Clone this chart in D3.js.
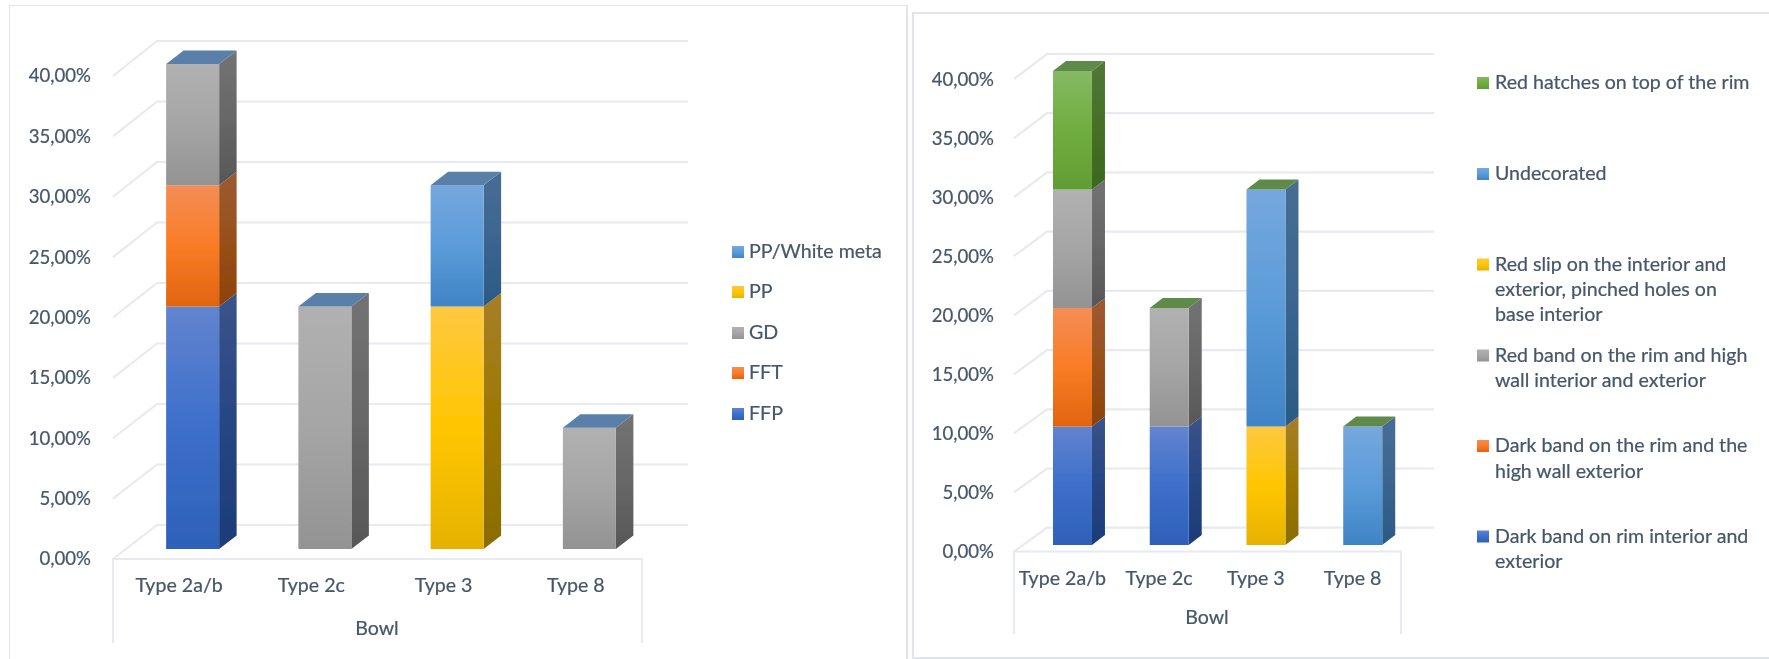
<!DOCTYPE html>
<html><head><meta charset="utf-8">
<script src="https://cdn.jsdelivr.net/npm/d3@7"></script>
<style>html,body{margin:0;padding:0;background:#fff;overflow:hidden}svg{display:block}text{font-family:Lato,sans-serif;fill:#475669;stroke:#475669;stroke-width:.22px}</style>
</head><body><svg id="c" width="1769" height="659"></svg>
<script>
// ---- data (percent) ----
const categories = ["Type 2a/b","Type 2c","Type 3","Type 8"];
const groupLabel = "Bowl";
const tickValues = [0,5,10,15,20,25,30,35,40];

const leftSeriesNames = ["FFP","FFT","GD","PP","PP/White meta"];
const leftFFP   = [20,0,0,0];
const leftFFT   = [10,0,0,0];
const leftGD    = [10,20,0,10];
const leftPP    = [0,0,20,0];
const leftWhite = [0,0,10,0];
const leftColors = ["blue","orange","gray","yellow","sky"];

const rightSeriesNames = [
  ["Dark band on rim interior and","exterior"],
  ["Dark band on the rim and the","high wall exterior"],
  ["Red band on the rim and high","wall interior and exterior"],
  ["Red slip on the interior and","exterior, pinched holes on","base interior"],
  ["Undecorated"],
  ["Red hatches on top of the rim"]];
const rightDarkRim  = [10,10,0,0];
const rightDarkHigh = [10,0,0,0];
const rightRedBand  = [10,10,0,0];
const rightRedSlip  = [0,0,10,0];
const rightUndec    = [0,0,20,10];
const rightHatches  = [10,0,0,0];
const rightColors = ["blue","orange","gray","yellow","sky","green"];

const palette = {
  blue:  {front:["#6284ce","#3c6fcb","#2e61b8"], side:["#3b5389","#264684","#1c3c78"]},
  orange:{front:["#f48d57","#f97c25","#e1640f"], side:["#9d5a32","#98501b","#8c4209"]},
  gray:  {front:["#b1b1b1","#a5a5a5","#939393"], side:["#737373","#676767","#575757"]},
  yellow:{front:["#fec840","#ffc600","#e6b200"], side:["#a67f28","#9d7800","#8a6c00"]},
  sky:   {front:["#75a8de","#5b9bd9","#3f84c6"], side:["#486d94","#3b6590","#2a5a85"]},
  green: {front:["#85b964","#70ad3f","#629d34"], side:["#527739","#457026","#3c6620"]}
};

// ---- layout ----
const fmt = d3.formatLocale({decimal:",",thousands:".",grouping:[3],currency:["","%"]}).format(".2f");
const svg = d3.select("#c");
const defs = svg.append("defs");
Object.entries(palette).forEach(([name,p])=>{
  ["front","side"].forEach(k=>{
    const g = defs.append("linearGradient").attr("id",`${name}-${k}`).attr("x1",0).attr("x2",0).attr("y1",0).attr("y2",1);
    p[k].forEach((c,i)=>g.append("stop").attr("offset",i/2).attr("stop-color",c));
  });
});
const soft = defs.append("filter").attr("id","soft").attr("x",0).attr("y",0).attr("width",1).attr("height",1);
soft.append("feGaussianBlur").attr("stdDeviation",0.45);

const root = svg.append("g").attr("filter","url(#soft)");

// panel frames
const frame = d3.line();
[[[9,659],[9,5],[907,5],[907,659]],[[913,659],[913,13],[1769,13]],[[913,658],[1769,658]]].forEach(p=>
  root.append("path").attr("d",frame(p)).attr("fill","none").attr("stroke","#e1e4ea").attr("stroke-width",2));

function chart(o){
  const g = root.append("g");
  const names = d3.range(o.series.length);
  const rows = categories.map((c,i)=>{const r={c};names.forEach(k=>r[k]=o.series[k][i]);return r;});
  const stacked = d3.stack().keys(names)(rows);

  const x = d3.scaleBand().domain(categories).range([o.floorL,o.floorR]);
  const yBar  = d3.scaleLinear().domain([0,40]).range(o.bar);
  const yWall = d3.scaleLinear().domain([0,40]).range(o.wall);
  const yAxis = d3.scaleLinear().domain([0,40]).range(o.axis);
  const yTick = d3.scaleLinear().domain([0,40]).range(o.tick);

  // gridlines: slanted side-wall segment + back-wall segment
  const gridStroke = "#e8eaef";
  g.selectAll("path.grid").data(tickValues).join("path").attr("class","grid")
    .attr("fill","none").attr("stroke",gridStroke).attr("stroke-width",2.2)
    .attr("d",v=>d3.line()([[o.floorL,yAxis(v)],[o.wallL,yWall(v)],[o.wallR,yWall(v)]]));

  // floor and category box
  g.append("path").attr("fill","none").attr("stroke",gridStroke).attr("stroke-width",2.2)
    .attr("d",d3.line()([[o.floorL,o.boxBottom],[o.floorL,o.axis[0]],[o.floorR,o.axis[0]],[o.floorR,o.boxBottom]]));

  // value axis
  const ax = g.append("g").attr("transform",`translate(${o.tickX},0)`)
    .call(d3.axisLeft(yTick).tickValues(tickValues).tickFormat(v=>fmt(v)+"%").tickSize(0).tickPadding(0));
  ax.select(".domain").remove();
  ax.selectAll("text").attr("font-size",o.tickFont).style("font-family","Lato,sans-serif").attr("fill","#475669");

  // stacked 3D bars
  const [dx,dy] = o.depth;
  const poly = pts=>d3.line()(pts)+"Z";
  categories.forEach((c,i)=>{
    const x0 = x(c)+x.bandwidth()/2+o.barOffset, x1 = x0+o.barW;
    const b = g.append("g");
    let topY = null;
    stacked.forEach((s,k)=>{
      const v0 = s[i][0], v1 = s[i][1];
      if(v1===v0) return;
      const col = o.colors[k], yb = yBar(v0), yt = yBar(v1);
      b.append("path").attr("fill",`url(#${col}-side)`)
        .attr("d",poly([[x1,yb],[x1+dx,yb+dy],[x1+dx,yt+dy],[x1,yt]]));
      b.append("rect").attr("x",x0).attr("y",yt).attr("width",o.barW).attr("height",yb-yt)
        .attr("fill",`url(#${col}-front)`);
      topY = yt;
    });
    if(topY!==null){
      b.append("path").attr("fill",o.capColor)
        .attr("d",poly([[x0,topY],[x0+dx,topY+dy],[x1+dx,topY+dy],[x1,topY]]));
    }
  });

  // category labels
  g.selectAll("text.cat").data(categories).join("text").attr("class","cat")
    .attr("x",c=>x(c)+x.bandwidth()/2).attr("y",o.catY).attr("text-anchor","middle")
    .attr("dominant-baseline","middle").attr("font-size",o.font).text(c=>c);
  g.append("text").attr("x",o.groupX).attr("y",o.groupY).attr("text-anchor","middle")
    .attr("dominant-baseline","middle").attr("font-size",o.font).text(groupLabel);

  // legend (top of stack first)
  o.legendRows.forEach(r=>{
    g.append("rect").attr("x",o.legendX).attr("y",r.y-6).attr("width",12).attr("height",12)
      .attr("fill",`url(#${o.colors[r.k]}-front)`);
    const lines = o.legendText[r.k];
    lines.forEach((t,j)=>g.append("text").attr("x",o.legendX+o.legendGap).attr("y",r.y+1.5+j*o.legendLead)
      .attr("dominant-baseline","middle").attr("font-size",o.font).text(t));
  });
}

chart({
  series:[leftFFP,leftFFT,leftGD,leftPP,leftWhite], colors:leftColors,
  legendText:leftSeriesNames.map(n=>[n]),
  floorL:113, floorR:642, wallL:157, wallR:688,
  bar:[549,64], wall:[525,41], axis:[559,76], tick:[559,76],
  boxBottom:643, tickX:91, font:19.6, tickFont:18.6,
  barOffset:-13, barW:53, depth:[17.5,-13.5], capColor:"#5a7fa8",
  catY:587.5, groupY:630, groupX:377, legendX:732, legendGap:17, legendLead:25.2,
  legendRows:[{k:4,y:252},{k:3,y:292},{k:2,y:333},{k:1,y:373},{k:0,y:414}]
});
chart({
  series:[rightDarkRim,rightDarkHigh,rightRedBand,rightRedSlip,rightUndec,rightHatches], colors:rightColors,
  legendText:rightSeriesNames,
  floorL:1014, floorR:1401, wallL:1047, wallR:1434,
  bar:[545,71], wall:[527.7,54], axis:[551.5,79], tick:[552,79.5],
  boxBottom:634, tickX:994, font:19.6, tickFont:18.6,
  barOffset:-9.4, barW:39, depth:[13,-10], capColor:"#618a4a",
  catY:580, groupY:619.5, groupX:1207, legendX:1477, legendGap:18, legendLead:25.2,
  legendRows:[{k:5,y:83},{k:4,y:174},{k:3,y:264.5},{k:2,y:355.5},{k:1,y:446},{k:0,y:536.5}]
});
</script></body></html>
